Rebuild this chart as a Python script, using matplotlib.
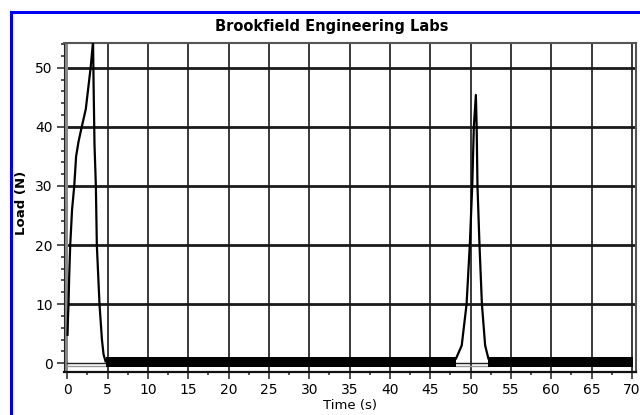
import numpy as np
import matplotlib
matplotlib.use("Agg")
import matplotlib.pyplot as plt
from matplotlib.lines import Line2D
from matplotlib.ticker import MultipleLocator
from matplotlib import font_manager

# --- Daten ---
peak1_time = [0.04, 0.1, 0.16, 0.25, 0.37, 0.6, 0.87, 1.1, 1.4, 1.8, 2.3, 2.9,
              3.2, 3.27, 3.38, 3.55, 3.67, 4.0, 4.3, 4.5, 4.75]
peak1_load = [4.8, 8.0, 10.0, 15.0, 20.0, 26.0, 30.0, 35.0, 37.5, 40.0, 43.0, 50.0,
              54.5, 47.0, 37.0, 30.0, 20.0, 10.0, 4.0, 1.5, 0.3]

peak2_time = [48.2, 48.9, 49.5, 49.9, 50.2, 50.4, 50.65, 50.75, 50.85, 51.1, 51.4, 51.8, 52.2]
peak2_load = [0.8, 3.0, 10.0, 20.0, 30.0, 40.0, 45.4, 40.0, 30.0, 20.0, 10.0, 3.0, 0.8]

# Rauschband um die Nulllinie (untere/obere Grenze)
band_segments = [(4.75, 48.2), (52.2, 70.1)]
band_low = -0.7
band_high = 1.0

# Grundlinien unter den Peaks
base_segments = [(0.0, 4.8), (48.2, 52.2)]

x_ticks = [0, 5, 10, 15, 20, 25, 30, 35, 40, 45, 50, 55, 60, 65, 70]
y_ticks = [0, 10, 20, 30, 40, 50]

# schmale Schrift suchen, sonst DejaVu
names = {f.name for f in font_manager.fontManager.ttflist}
FONT = [n for n in ["Liberation Sans Narrow", "DejaVu Sans Condensed"] if n in names] + ["DejaVu Sans"]
print("Fonts:", FONT)

fig = plt.figure(figsize=(6.4, 4.15), dpi=100)
ax = fig.add_axes([64 / 640, 1 - 372 / 415, (636 - 64) / 640, (372 - 43) / 415])

ax.set_xlim(-0.4, 70.5)
ax.set_ylim(-1.5, 54.2)

# Gitter
for xv in x_ticks:
    ax.axvline(xv, color="#2a2a2a", lw=1.3, zorder=1)
for yv in y_ticks[1:]:
    ax.axhline(yv, color="#1a1a1a", lw=2.0, zorder=1)

# grauer Streifen links
ax.axvspan(-0.4, 0.12, color="#8a8a8a", lw=0, zorder=1.5)

# Grundlinien
for a, b in base_segments:
    ax.plot([a, b], [0.0, 0.0], color="#222222", lw=1.0, zorder=2)
    ax.plot([a, b], [-0.55, -0.55], color="#999999", lw=1.0, zorder=2)

# Rauschband
for a, b in band_segments:
    ax.fill_between([a, b], [band_low, band_low], [band_high, band_high],
                    color="black", lw=0, zorder=3)

ax.plot(peak1_time, peak1_load, color="black", lw=1.6, zorder=4)
ax.plot(peak2_time, peak2_load, color="black", lw=1.6, zorder=4)

ax.set_xticks(x_ticks)
ax.set_yticks(y_ticks)
ax.xaxis.set_minor_locator(MultipleLocator(2.5))
ax.yaxis.set_minor_locator(MultipleLocator(2))
ax.tick_params(axis="both", which="major", direction="out", length=5, width=1.2,
               color="#333333", labelsize=10, pad=3)
ax.tick_params(axis="both", which="minor", direction="out", length=2.5, width=1.2,
               color="#333333")
for lab in ax.get_xticklabels() + ax.get_yticklabels():
    lab.set_family(FONT)

for side in ["top", "right"]:
    ax.spines[side].set_color("#555555")
    ax.spines[side].set_linewidth(1.5)
ax.spines["left"].set_color("#222222")
ax.spines["bottom"].set_color("#111111")
ax.spines["bottom"].set_linewidth(1.6)

# Achsentitel als Figurentext, damit nichts abgeschnitten wird
fig.text(350 / 640, 1 - 405 / 415, "Time (s)", family=FONT, fontsize=9.5,
         ha="center", va="center")
fig.text(22 / 640, 1 - 203 / 415, "Load (N)", family=FONT, fontsize=9.5,
         fontweight="bold", rotation=90, ha="center", va="center")

fig.text(332 / 640, 1 - 26 / 415, "Brookfield Engineering Labs", family=FONT,
         fontsize=10.5, fontweight="bold", ha="center", va="center")

# blauer Rahmen
ytop = 1 - 12 / 415
fig.add_artist(Line2D([11 / 640, 11 / 640], [0, ytop], color="#0000ee", lw=2.2))
fig.add_artist(Line2D([11 / 640, 1], [ytop, ytop], color="#0000ee", lw=2.2))

fig.savefig("out.png", dpi=100)
